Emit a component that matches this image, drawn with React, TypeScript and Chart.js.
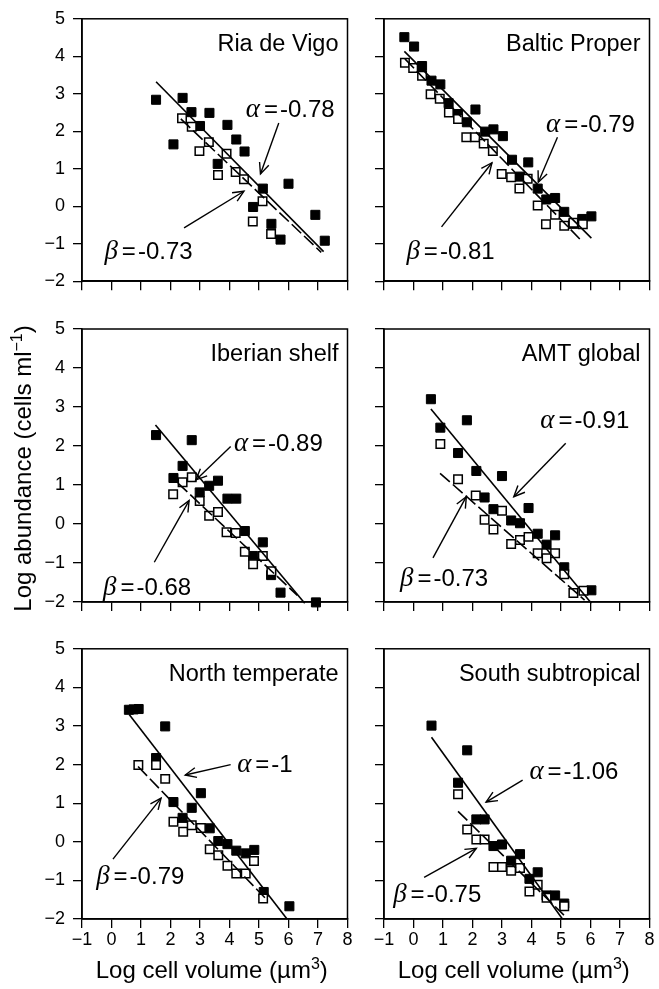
import React, { useEffect, useRef } from 'react';
import { Chart, registerables } from 'chart.js';
Chart.register(...registerables);

// ---------- data ----------
const panelNames = ['Ria de Vigo', 'Baltic Proper', 'Iberian shelf', 'AMT global', 'North temperate', 'South subtropical'];
const alphaValues = ['-0.78', '-0.79', '-0.89', '-0.91', '-1', '-1.06'];
const betaValues = ['-0.73', '-0.81', '-0.68', '-0.73', '-0.79', '-0.75'];
const xTickValues = [-1, 0, 1, 2, 3, 4, 5, 6, 7, 8];
const yTickValues = [-2, -1, 0, 1, 2, 3, 4, 5];
const xAxisTitle = 'Log cell volume (µm';
const xAxisTitleSup = '3';
const yAxisTitle = 'Log abundance (cells ml';
const yAxisTitleSup = '−1';

const vigoFilled = [[1.51, 2.84], [2.41, 2.89], [2.10, 1.65], [2.71, 2.51], [3.0, 2.14], [3.32, 2.49], [3.93, 2.17], [3.6, 1.13], [4.23, 1.78], [4.51, 1.46], [5.13, 0.47], [4.8, -0.02], [6.0, 0.6], [5.42, -0.47], [5.73, -0.89], [6.91, -0.23], [7.23, -0.92]];
const vigoOpen = [[2.39, 2.35], [2.72, 2.12], [2.98, 1.47], [3.3, 1.71], [3.61, 0.83], [3.9, 1.4], [4.21, 0.91], [4.49, 0.72], [5.12, 0.13], [4.79, -0.41], [5.41, -0.74]];
const vigoAlphaFit = [[1.51, 3.32], [7.19, -1.21]];
const vigoBetaFit = [[2.35, 2.33], [7.11, -1.23]];

const balticFilled = [[-0.31, 4.51], [0.02, 4.26], [0.29, 3.74], [0.61, 3.35], [0.91, 3.25], [1.19, 2.75], [1.51, 2.46], [1.81, 2.24], [2.1, 2.58], [2.43, 1.99], [2.71, 2.05], [3.03, 1.87], [3.34, 1.24], [3.61, 0.79], [3.89, 1.17], [4.21, 0.47], [4.5, 0.18], [4.8, 0.22], [5.11, -0.15], [5.42, -0.47], [5.72, -0.34], [6.03, -0.27]];
const balticOpen = [[-0.29, 3.83], [-0.01, 3.69], [0.29, 3.48], [0.58, 2.99], [0.89, 2.87], [1.2, 2.5], [1.51, 2.33], [1.79, 1.84], [2.09, 1.84], [2.38, 1.67], [2.69, 1.47], [2.99, 0.86], [3.31, 0.77], [3.59, 0.47], [3.87, 0.73], [4.21, 0.02], [4.49, -0.48], [4.8, -0.23], [5.11, -0.52], [5.42, -0.44], [5.74, -0.48]];
const balticAlphaFit = [[-0.31, 4.13], [6.03, -0.85]];
const balticBetaFit = [[-0.29, 3.93], [5.73, -0.95]];

const iberianFilled = [[1.51, 2.28], [2.72, 2.15], [2.41, 1.49], [2.1, 1.18], [2.99, 0.81], [3.31, 0.98], [3.61, 1.11], [3.93, 0.65], [4.23, 0.65], [4.52, -0.18], [5.13, -0.47], [4.8, -0.82], [5.41, -1.31], [5.73, -1.76], [6.93, -2.01]];
const iberianOpen = [[2.09, 0.76], [2.41, 1.07], [2.72, 1.2], [2.99, 0.59], [3.31, 0.21], [3.61, 0.31], [3.9, -0.21], [4.21, -0.23], [4.52, -0.71], [4.8, -1.03], [5.13, -0.82], [5.42, -1.21]];
const iberianAlphaFit = [[1.49, 2.54], [6.55, -2.03]];
const iberianBetaFit = [[2.25, 1.05], [6.3, -1.83]];

const amtFilled = [[0.59, 3.2], [0.91, 2.47], [1.81, 2.66], [1.51, 1.82], [2.13, 1.36], [3.0, 1.23], [2.41, 0.68], [2.71, 0.38], [3.31, 0.09], [3.61, 0.02], [3.9, 0.41], [4.21, -0.25], [4.51, -0.53], [4.8, -0.29], [5.11, -1.11], [6.03, -1.7]];
const amtOpen = [[0.91, 2.05], [1.51, 1.15], [2.11, 0.73], [2.41, 0.11], [2.71, -0.14], [3.0, 0.34], [3.31, -0.51], [3.61, -0.41], [3.9, -0.33], [4.21, -0.75], [4.51, -0.88], [4.8, -0.75], [5.11, -1.29], [5.42, -1.77], [5.76, -1.71]];
const amtAlphaFit = [[0.59, 2.95], [6.03, -2.03]];
const amtBetaFit = [[0.9, 1.3], [5.8, -1.95]];

const northFilled = [[0.59, 3.42], [0.75, 3.43], [0.92, 3.44], [1.82, 2.99], [1.51, 2.17], [2.1, 1.03], [3.03, 1.26], [2.41, 0.62], [2.72, 0.88], [3.33, 0.35], [3.62, 0.02], [3.93, -0.06], [4.23, -0.23], [4.55, -0.3], [4.84, -0.21], [5.16, -1.3], [6.03, -1.67]];
const northOpen = [[0.91, 1.99], [1.51, 1.99], [1.82, 1.63], [2.1, 0.52], [2.43, 0.26], [2.72, 0.43], [3.03, 0.36], [3.33, -0.19], [3.62, -0.35], [3.93, -0.62], [4.23, -0.82], [4.55, -0.82], [4.83, -0.5], [5.14, -1.47]];
const northAlphaFit = [[0.6, 3.3], [5.95, -2.0]];
const northBetaFit = [[0.9, 1.95], [5.2, -1.45]];

const southFilled = [[0.61, 3.01], [1.82, 2.37], [1.51, 1.53], [2.13, 0.58], [2.41, 0.58], [2.71, -0.11], [3.0, -0.07], [3.31, -0.49], [3.61, -0.32], [3.93, -0.96], [4.21, -0.79], [4.51, -1.39], [4.8, -1.39], [5.11, -1.6]];
const southOpen = [[1.51, 1.23], [1.82, 0.32], [2.13, 0.06], [2.41, 0.06], [2.71, -0.65], [3.0, -0.65], [3.31, -0.75], [3.61, -0.68], [3.93, -1.29], [4.21, -1.11], [4.51, -1.45], [5.11, -1.67]];
const southAlphaFit = [[0.61, 2.71], [5.05, -2.0]];
const southBetaFit = [[1.51, 0.79], [5.1, -1.9]];

const filledSets = [vigoFilled, balticFilled, iberianFilled, amtFilled, northFilled, southFilled];
const openSets = [vigoOpen, balticOpen, iberianOpen, amtOpen, northOpen, southOpen];
const alphaFits = [vigoAlphaFit, balticAlphaFit, iberianAlphaFit, amtAlphaFit, northAlphaFit, southAlphaFit];
const betaFits = [vigoBetaFit, balticBetaFit, iberianBetaFit, amtBetaFit, northBetaFit, southBetaFit];

// ---------- annotation layout (data coordinates) ----------
const annotLayout = [
  { aLabel: [4.55, 2.61], aArrow: [[5.67, 2.22], [5.05, 0.86]], bLabel: [-0.24, -1.19], bArrow: [[2.46, -0.58], [4.49, 0.4]] },
  { aLabel: [4.49, 2.22], aArrow: [[4.88, 1.84], [4.23, 0.64]], bLabel: [-0.24, -1.19], bArrow: [[0.95, -0.55], [2.66, 1.16]] },
  { aLabel: [4.15, 2.08], aArrow: [[4.04, 1.99], [2.86, 1.13]], bLabel: [-0.29, -1.6], bArrow: [[1.45, -0.98], [2.63, 0.6]] },
  { aLabel: [4.3, 2.67], aArrow: [[5.16, 2.07], [3.4, 0.7]], bLabel: [-0.46, -1.38], bArrow: [[0.66, -0.87], [1.79, 0.7]] },
  { aLabel: [4.26, 2.03], aArrow: [[4.04, 2.0], [2.5, 1.73]], bLabel: [-0.52, -0.87], bArrow: [[0.05, -0.45], [1.68, 1.13]] },
  { aLabel: [3.93, 1.86], aArrow: [[3.7, 1.6], [2.46, 1.03]], bLabel: [-0.69, -1.35], bArrow: [[0.36, -0.92], [2.13, -0.17]] },
];

const SANS = "'Liberation Sans', Arial, Helvetica, sans-serif";
const SERIF = "'Liberation Serif', 'Times New Roman', serif";

const COLS = [
  { left: 0, width: 355, yW: 82 },
  { left: 355, width: 302, yW: 29 },
];
const ROWS = [
  { top: 0, height: 300, padTop: 15 },
  { top: 300, height: 330, padTop: 29 },
  { top: 630, height: 359, padTop: 16 },
];
const PANEL_H = 273;

const toXY = (arr: number[][]) => arr.map(([x, y]) => ({ x, y }));

function drawArrow(ctx: CanvasRenderingContext2D, x1: number, y1: number, x2: number, y2: number) {
  ctx.save();
  ctx.strokeStyle = '#000';
  ctx.lineWidth = 1.4;
  ctx.beginPath();
  ctx.moveTo(x1, y1);
  ctx.lineTo(x2, y2);
  ctx.stroke();
  const ang = Math.atan2(y2 - y1, x2 - x1);
  const L = 12;
  const spread = 0.42;
  ctx.beginPath();
  ctx.moveTo(x2 - L * Math.cos(ang - spread), y2 - L * Math.sin(ang - spread));
  ctx.lineTo(x2, y2);
  ctx.lineTo(x2 - L * Math.cos(ang + spread), y2 - L * Math.sin(ang + spread));
  ctx.stroke();
  ctx.restore();
}

function drawGreekLabel(ctx: CanvasRenderingContext2D, greek: string, value: string, x: number, yMid: number) {
  ctx.save();
  ctx.fillStyle = '#000';
  ctx.textAlign = 'left';
  ctx.textBaseline = 'alphabetic';
  const base = yMid + 8.5;
  ctx.font = `italic 27px ${SERIF}`;
  ctx.fillText(greek, x, base);
  let cx = x + ctx.measureText(greek).width + 4;
  ctx.font = `24px ${SANS}`;
  ctx.fillText('=', cx, base);
  cx += ctx.measureText('=').width + 2;
  ctx.fillText(value, cx, base);
  ctx.restore();
}

function Panel({ index }: { index: number }) {
  const ref = useRef<HTMLCanvasElement>(null);
  const col = index % 2;
  const row = Math.floor(index / 2);
  const C = COLS[col];
  const R = ROWS[row];
  const xH = R.height - R.padTop - PANEL_H;

  useEffect(() => {
    const canvas = ref.current;
    if (!canvas) return;
    const layout = annotLayout[index];
    const decor = {
      id: 'decor' + index,
      afterDatasetsDraw(chart: any) {
        const ctx: CanvasRenderingContext2D = chart.ctx;
        const a = chart.chartArea;
        const xs = chart.scales.x;
        const ys = chart.scales.y;
        const px = (v: number) => xs.getPixelForValue(v);
        const py = (v: number) => ys.getPixelForValue(v);
        ctx.save();
        // frame
        ctx.strokeStyle = '#000';
        ctx.lineWidth = 1.5;
        ctx.strokeRect(a.left, a.top, a.right - a.left, a.bottom - a.top);
        // title
        ctx.fillStyle = '#000';
        ctx.font = `23.5px ${SANS}`;
        ctx.textAlign = 'right';
        ctx.textBaseline = 'alphabetic';
        ctx.fillText(panelNames[index], a.right - 9, a.top + 32);
        // arrows
        drawArrow(ctx, px(layout.aArrow[0][0]), py(layout.aArrow[0][1]), px(layout.aArrow[1][0]), py(layout.aArrow[1][1]));
        drawArrow(ctx, px(layout.bArrow[0][0]), py(layout.bArrow[0][1]), px(layout.bArrow[1][0]), py(layout.bArrow[1][1]));
        // labels
        drawGreekLabel(ctx, 'α', alphaValues[index], px(layout.aLabel[0]), py(layout.aLabel[1]));
        drawGreekLabel(ctx, 'β', betaValues[index], px(layout.bLabel[0]), py(layout.bLabel[1]));
        // x axis title (bottom row)
        if (row === 2) {
          const cxm = (a.left + a.right) / 2 - 3;
          const base = 348;
          ctx.font = `24px ${SANS}`;
          const w1 = ctx.measureText(xAxisTitle).width;
          ctx.font = `16px ${SANS}`;
          const w2 = ctx.measureText(xAxisTitleSup).width;
          ctx.font = `24px ${SANS}`;
          const w3 = ctx.measureText(')').width;
          let sx = cxm - (w1 + w2 + w3) / 2;
          ctx.textAlign = 'left';
          ctx.fillText(xAxisTitle, sx, base);
          sx += w1;
          ctx.font = `16px ${SANS}`;
          ctx.fillText(xAxisTitleSup, sx, base - 9);
          sx += w2;
          ctx.font = `24px ${SANS}`;
          ctx.fillText(')', sx, base);
        }
        // y axis title (middle-left)
        if (row === 1 && col === 0) {
          ctx.save();
          ctx.translate(31, (a.top + a.bottom) / 2 + 3);
          ctx.rotate(-Math.PI / 2);
          ctx.font = `24px ${SANS}`;
          const w1 = ctx.measureText(yAxisTitle).width;
          ctx.font = `16px ${SANS}`;
          const w2 = ctx.measureText(yAxisTitleSup).width;
          ctx.font = `24px ${SANS}`;
          const w3 = ctx.measureText(')').width;
          let sx = -(w1 + w2 + w3) / 2;
          ctx.textAlign = 'left';
          ctx.textBaseline = 'alphabetic';
          ctx.fillText(yAxisTitle, sx, 0);
          sx += w1;
          ctx.font = `16px ${SANS}`;
          ctx.fillText(yAxisTitleSup, sx, -9);
          sx += w2;
          ctx.font = `24px ${SANS}`;
          ctx.fillText(')', sx, 0);
          ctx.restore();
        }
        ctx.restore();
      },
    };

    const fmt = (v: number) => (v < 0 ? '−' + Math.abs(v) : String(v));

    const chart = new Chart(canvas, {
      type: 'scatter',
      data: {
        datasets: [
          {
            label: 'alpha fit',
            data: toXY(alphaFits[index]),
            showLine: true,
            borderColor: '#000',
            borderWidth: 1.6,
            pointRadius: 0,
            fill: false,
          },
          {
            label: 'beta fit',
            data: toXY(betaFits[index]),
            showLine: true,
            borderColor: '#000',
            borderWidth: 1.6,
            borderDash: [13, 4],
            pointRadius: 0,
            fill: false,
          },
          {
            label: 'open',
            data: toXY(openSets[index]),
            pointStyle: 'rect',
            pointRadius: 6,
            backgroundColor: '#fff',
            borderColor: '#000',
            borderWidth: 1.5,
          },
          {
            label: 'filled',
            data: toXY(filledSets[index]),
            pointStyle: 'rect',
            pointRadius: 6.4,
            backgroundColor: '#000',
            borderColor: '#000',
            borderWidth: 1,
          },
        ] as any,
      },
      options: {
        responsive: false,
        animation: false,
        devicePixelRatio: 1,
        events: [],
        clip: false as any,
        layout: { padding: { top: R.padTop, right: 6, left: 0, bottom: 0 } },
        plugins: { legend: { display: false }, tooltip: { enabled: false } },
        scales: {
          x: {
            type: 'linear',
            position: 'bottom',
            min: -1,
            max: 8,
            afterFit: (s: any) => { s.height = xH; },
            afterBuildTicks: (s: any) => { s.ticks = xTickValues.map((v) => ({ value: v })); },
            grid: { display: true, drawOnChartArea: false, drawTicks: true, tickLength: 9, color: '#000', lineWidth: 1.3 },
            border: { display: true, color: '#000', width: 1.5 },
            ticks: {
              color: '#000',
              font: { family: SANS, size: 18 },
              padding: 1,
              maxRotation: 0,
              autoSkip: false,
              callback: (v: any) => (row === 2 ? fmt(Number(v)) : ''),
            },
          },
          y: {
            type: 'linear',
            position: 'left',
            min: -2,
            max: 5,
            afterFit: (s: any) => { s.width = C.yW; },
            afterBuildTicks: (s: any) => { s.ticks = yTickValues.map((v) => ({ value: v })); },
            grid: { display: true, drawOnChartArea: false, drawTicks: true, tickLength: 9, color: '#000', lineWidth: 1.3 },
            border: { display: true, color: '#000', width: 1.5 },
            ticks: {
              color: '#000',
              font: { family: SANS, size: 18 },
              padding: 8,
              autoSkip: false,
              callback: (v: any) => (col === 0 ? fmt(Number(v)) : ''),
            },
          },
        },
      } as any,
      plugins: [decor],
    });
    return () => chart.destroy();
  }, []);

  return (
    <canvas
      ref={ref}
      width={C.width}
      height={R.height}
      style={{ position: 'absolute', left: C.left, top: R.top, width: C.width, height: R.height, display: 'block' }}
    />
  );
}

export default function App() {
  useEffect(() => {
    document.body.style.margin = '0';
  }, []);
  return (
    <div style={{ position: 'absolute', left: 0, top: 0, width: 659, height: 989, background: '#fff', overflow: 'hidden' }}>
      {[0, 1, 2, 3, 4, 5].map((i) => (
        <Panel key={i} index={i} />
      ))}
    </div>
  );
}
